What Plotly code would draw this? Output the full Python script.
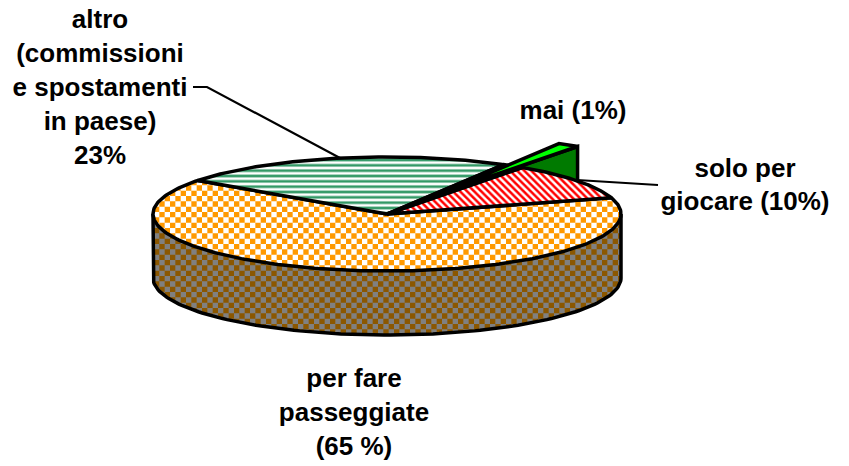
import numpy as np
import plotly.graph_objects as go

# slice shares (%), counter-clockwise from the start angle
categories = ["solo per giocare", "mai", "altro", "per fare passeggiate"]
values = [10.6, 1.5, 23.3, 64.6]
start_angle = 16.5

# label text, one entry per line
label_altro = ["altro", "(commissioni", "e spostamenti", "in paese)", "23%"]
label_mai = ["mai (1%)"]
label_solo = ["solo per", "giocare (10%)"]
label_pass = ["per fare", "passeggiate", "(65 %)"]

CX, CY, A, B, DEPTH = 387.0, 214.0, 234.0, 57.0, 64.0
EXPLODE = 0.4375
CELL = 16 / 3
LW = 3.5
PAGE_MARGIN = 8  # the page's own body margin


def pt(t, r=1.0):
    t = np.radians(t)
    return CX + r * A * np.cos(t), CY - r * B * np.sin(t)


def arc(t0, t1, n=90):
    ts = np.linspace(t0, t1, n)
    return [pt(t) for t in ts]


def clip(poly, hull):
    """Sutherland-Hodgman clip of poly against a convex hull."""
    hx = np.array(hull)
    area = 0.5 * np.sum(hx[:, 0] * np.roll(hx[:, 1], -1) - np.roll(hx[:, 0], -1) * hx[:, 1])
    sgn = 1 if area > 0 else -1
    out = poly
    for i in range(len(hull)):
        a, b = hull[i], hull[(i + 1) % len(hull)]
        def side(p):
            return sgn * ((b[0] - a[0]) * (p[1] - a[1]) - (b[1] - a[1]) * (p[0] - a[0]))
        new = []
        for j in range(len(out)):
            p, q = out[j], out[(j + 1) % len(out)]
            sp, sq = side(p), side(q)
            if sp >= 0:
                new.append(p)
            if sp * sq < 0:
                f = sp / (sp - sq)
                new.append((p[0] + f * (q[0] - p[0]), p[1] + f * (q[1] - p[1])))
        out = new
        if not out:
            break
    return out


def checker(hulls, x0, y0, parity=0):
    """One colour of a square checkerboard, clipped to convex regions."""
    xs, ys = [], []
    for hull in hulls:
        h = np.array(hull)
        i0 = int(np.floor((h[:, 0].min() - x0) / CELL))
        i1 = int(np.ceil((h[:, 0].max() - x0) / CELL))
        j0 = int(np.floor((h[:, 1].min() - y0) / CELL))
        j1 = int(np.ceil((h[:, 1].max() - y0) / CELL))
        for i in range(i0, i1):
            for j in range(j0, j1):
                if (i + j) % 2 != parity:
                    continue
                l, t = x0 + i * CELL, y0 + j * CELL
                sq = [(l, t), (l + CELL, t), (l + CELL, t + CELL), (l, t + CELL)]
                c = clip(sq, hull)
                if len(c) >= 3:
                    xs += [p[0] for p in c] + [c[0][0], None]
                    ys += [p[1] for p in c] + [c[0][1], None]
    return xs, ys


def poly_trace(points, fill="white", line=None, pattern=None):
    xs = [p[0] for p in points] + [points[0][0]]
    ys = [p[1] for p in points] + [points[0][1]]
    kw = dict(x=xs, y=ys, mode="lines", fill="toself", hoverinfo="skip", showlegend=False)
    kw["fillcolor"] = fill
    kw["line"] = dict(color="black", width=LW) if line else dict(width=0, color="rgba(0,0,0,0)")
    if pattern:
        kw["fillpattern"] = pattern
    return go.Scatter(**kw)


def line_trace(points, width=LW):
    return go.Scatter(x=[p[0] for p in points], y=[p[1] for p in points], mode="lines",
                      line=dict(color="black", width=width), hoverinfo="skip", showlegend=False)


# slice boundaries from the values
total = sum(values)
angles = [start_angle]
for v in values:
    angles.append(angles[-1] + v / total * 360)
red0, red1 = angles[0], angles[1]
mai0, mai1 = angles[1], angles[2]
alt0, alt1 = angles[2], angles[3]
pas0, pas1 = angles[3], angles[4]

fig = go.Figure()

# exploded small slice: wall, drawn behind the main pie
mid = np.radians((mai0 + mai1) / 2)
ox, oy = EXPLODE * A * np.cos(mid), -EXPLODE * B * np.sin(mid)
apex = (CX + ox, CY + oy)
mai_arc = [(x + ox, y + oy) for x, y in arc(mai0, mai1, 8)]
tip_r = mai_arc[0]
fig.add_trace(poly_trace([apex, tip_r, (tip_r[0], tip_r[1] + DEPTH), (apex[0], apex[1] + DEPTH)],
                         fill="#007A00", line=True))

# side wall of the main pie (convex stadium, upper part is overpainted by the top)
low = [(x, y + DEPTH) for x, y in arc(180, 360, 120)]
stadium = [(CX - A, CY)] + low + [(CX + A, CY)] + arc(0, 180, 60)[1:-1]
fig.add_trace(poly_trace(stadium, fill="#808080"))
bx, by = checker([stadium], 154.0, 196.0, 0)
fig.add_trace(go.Scatter(x=bx, y=by, mode="lines", fill="toself", fillcolor="#8B5700",
                         line=dict(width=0, color="rgba(0,0,0,0)"), hoverinfo="skip", showlegend=False))
fig.add_trace(line_trace([(CX - A, CY), (CX - A, CY + DEPTH)] + low[1:] + [(CX + A, CY)]))

# top of the pie: long slice
full = arc(pas0, pas1, 240)
fig.add_trace(poly_trace([(CX, CY)] + full, fill="white"))
split = (pas0 + pas1) / 2
hull_a = [(CX, CY)] + arc(pas0, split, 120)
hull_b = [(CX, CY)] + arc(split, pas1, 120)
ox_, oy_ = checker([hull_a, hull_b], 154.0, 196.0, 0)
fig.add_trace(go.Scatter(x=ox_, y=oy_, mode="lines", fill="toself", fillcolor="#FF9900",
                         line=dict(width=0, color="rgba(0,0,0,0)"), hoverinfo="skip", showlegend=False))
fig.add_trace(line_trace([(CX, CY)] + full + [(CX, CY)]))

# striped and hatched slices
fig.add_trace(poly_trace([(CX, CY)] + arc(alt0, alt1), fill="white", line=True,
                         pattern=dict(shape="-", size=CELL, solidity=0.5, fgcolor="#339966",
                                      bgcolor="white", fillmode="replace")))
fig.add_trace(poly_trace([(CX, CY)] + arc(red0, red1), fill="white", line=True,
                         pattern=dict(shape="\\", size=5, solidity=0.5, fgcolor="#FF0000",
                                      bgcolor="white", fillmode="replace")))

# gap left by the exploded slice, then its top face
fig.add_trace(poly_trace([(CX, CY)] + arc(mai0, mai1, 8), fill="black", line=True))
fig.add_trace(poly_trace([apex] + mai_arc, fill="#00FF00", line=True))

# leader lines (anchored to the slice rims)
fig.add_trace(line_trace([(193, 87), (207, 87), (340, 158)], 2.2))
fig.add_trace(line_trace([(577, 180), (658, 185)], 2.2))


def add_label(lines, x, y0, size, step=34):
    ys = [y0 + i * step for i in range(len(lines))]
    fig.add_trace(go.Scatter(x=[x] * len(lines), y=ys, mode="text", text=lines,
                             textposition="middle center",
                             textfont=dict(family="Liberation Sans", size=size, color="black",
                                           weight="bold"),
                             hoverinfo="skip", showlegend=False))


add_label(label_altro, 100, 21, 26)
add_label(label_mai, 573, 112, 26)
add_label(label_solo, 745, 170, 26, 33)
add_label(label_pass, 354, 380, 26)

fig.update_layout(width=849, height=466, margin=dict(l=0, r=0, t=0, b=0),
                  paper_bgcolor="white", plot_bgcolor="white", showlegend=False,
                  xaxis=dict(range=[PAGE_MARGIN, 849 + PAGE_MARGIN], visible=False, fixedrange=True),
                  yaxis=dict(range=[466 + PAGE_MARGIN, PAGE_MARGIN], visible=False, fixedrange=True))
fig.write_html("out.html", config=dict(displayModeBar=False))
